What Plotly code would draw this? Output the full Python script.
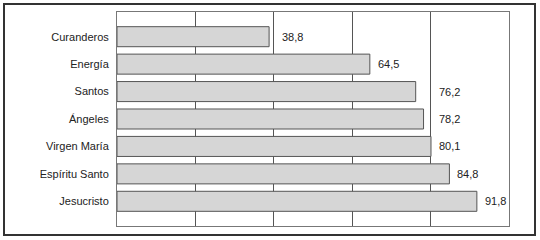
import math
import plotly.graph_objects as go

categories = ["Curanderos", "Energía", "Santos", "Ángeles", "Virgen María", "Espíritu Santo", "Jesucristo"]
values = [38.8, 64.5, 76.2, 78.2, 80.1, 84.8, 91.8]
value_labels = [f"{v:.1f}".replace(".", ",") for v in values]

# a label whose bar ends just before a gridline is moved past that gridline
grid_step = 20
clear_gap = 5
def label_anchor(v):
    g = math.ceil(v / grid_step) * grid_step
    return g if (g - v) < clear_gap else v
label_x = [label_anchor(v) for v in values]

W, H = 540, 240
L, R, T, B = 117, 509, 12, 226
pw, ph = R - L, B - T

def px(x):
    return (x - L) / pw

def py(y):
    return (B - y) / ph

fig = go.Figure()
fig.add_trace(go.Bar(
    x=values,
    y=categories,
    orientation="h",
    width=0.73,
    marker=dict(color="#d6d6d6", line=dict(color="#555555", width=1)),
    hoverinfo="skip",
))

for cat, lx, txt in zip(categories, label_x, value_labels):
    fig.add_annotation(
        x=lx, y=cat, text=txt, showarrow=False,
        xanchor="left", yanchor="middle", xshift=6,
        font=dict(family="Liberation Sans, Arial, sans-serif", size=11, color="#222222"),
    )

fig.add_shape(
    type="rect", xref="paper", yref="paper",
    x0=px(4), x1=px(535), y0=py(235), y1=py(4),
    line=dict(color="#333333", width=2), fillcolor="rgba(0,0,0,0)",
    layer="above",
)

fig.update_layout(
    width=W, height=H,
    margin=dict(l=L, r=W - R, t=T, b=H - B, pad=0),
    paper_bgcolor="white",
    plot_bgcolor="white",
    showlegend=False,
    font=dict(family="Liberation Sans, Arial, sans-serif", size=11, color="#222222"),
    xaxis=dict(
        range=[0, 100], dtick=grid_step, tick0=0,
        showgrid=True, gridcolor="#555555", gridwidth=1,
        showticklabels=False, ticks="", zeroline=False,
        showline=True, mirror=True, linecolor="#777777", linewidth=1,
        fixedrange=True,
    ),
    yaxis=dict(
        categoryorder="array", categoryarray=categories[::-1],
        range=[-0.9, 6.9],
        showgrid=False, zeroline=False, ticks="",
        showline=True, mirror=True, linecolor="#777777", linewidth=1,
        ticklabelstandoff=5,
        tickfont=dict(family="Liberation Sans, Arial, sans-serif", size=11, color="#222222"),
        fixedrange=True,
    ),
)

fig.write_html("out.html", config={"displayModeBar": False})
